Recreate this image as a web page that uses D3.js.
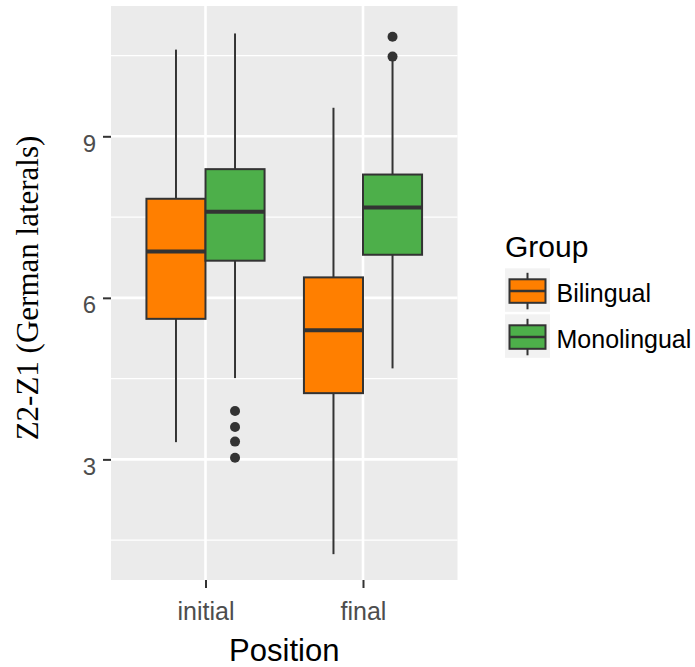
<!DOCTYPE html>
<html>
<head>
<meta charset="utf-8">
<script src="https://cdn.jsdelivr.net/npm/d3@7"></script>
<style>
  html, body { margin: 0; padding: 0; background: #ffffff; }
  svg { display: block; }
</style>
</head>
<body>
<svg id="chart" width="695" height="667"></svg>
<script>
// Box-plot summaries of Z2-Z1 for German laterals, by position and group
const positions = ["initial", "final"];
const groups = ["Bilingual", "Monolingual"];
const groupColors = ["#FF7F00", "#4DAF4A"];

// one entry per [position][group]
const whiskerLow  = [[3.32, 4.51], [1.24, 4.69]];
const q1          = [[5.61, 6.69], [4.23, 6.80]];
const medians     = [[6.86, 7.60], [5.40, 7.68]];
const q3          = [[7.84, 8.39], [6.38, 8.29]];
const whiskerHigh = [[10.61, 10.91], [9.53, 10.45]];
const outliers    = [[[], [3.90, 3.60, 3.33, 3.03]], [[], [10.48, 10.85]]];

const yTicks = [3, 6, 9];
const yMinor = [1.5, 4.5, 7.5, 10.5];
const yDomain = [0.76, 11.42];

const svg = d3.select("#chart");
const panel = { left: 111, right: 457.5, top: 6, bottom: 580 };

const x = d3.scalePoint().domain(positions).range([panel.left, panel.right]).padding(0.6);
const y = d3.scaleLinear().domain(yDomain).range([panel.bottom, panel.top]);
const dodge = d3.scaleBand().domain(groups).range([-0.375, 0.375]);
const step = x.step();
const boxW = dodge.bandwidth() * step;

// panel background and grid
svg.append("rect")
  .attr("x", panel.left).attr("y", panel.top)
  .attr("width", panel.right - panel.left).attr("height", panel.bottom - panel.top)
  .attr("fill", "#EBEBEB");

const grid = svg.append("g");
grid.selectAll("line.minor").data(yMinor).join("line")
  .attr("x1", panel.left).attr("x2", panel.right)
  .attr("y1", d => y(d)).attr("y2", d => y(d))
  .attr("stroke", "#ffffff").attr("stroke-width", 1.3);
grid.selectAll("line.majorY").data(yTicks).join("line")
  .attr("x1", panel.left).attr("x2", panel.right)
  .attr("y1", d => y(d)).attr("y2", d => y(d))
  .attr("stroke", "#ffffff").attr("stroke-width", 2.6);
grid.selectAll("line.majorX").data(positions).join("line")
  .attr("x1", d => x(d)).attr("x2", d => x(d))
  .attr("y1", panel.top).attr("y2", panel.bottom)
  .attr("stroke", "#ffffff").attr("stroke-width", 2.6);

// boxes
const records = [];
positions.forEach((p, i) => groups.forEach((g, j) => records.push({
  p, g, color: groupColors[j],
  lo: whiskerLow[i][j], q1: q1[i][j], med: medians[i][j], q3: q3[i][j], hi: whiskerHigh[i][j],
  out: outliers[i][j]
})));

const boxes = svg.append("g").selectAll("g").data(records).join("g")
  .attr("transform", d => `translate(${x(d.p) + (dodge(d.g) + dodge.bandwidth() / 2) * step},0)`);

boxes.append("line")
  .attr("x1", 0).attr("x2", 0).attr("y1", d => y(d.hi)).attr("y2", d => y(d.q3))
  .attr("stroke", "#333333").attr("stroke-width", 2);
boxes.append("line")
  .attr("x1", 0).attr("x2", 0).attr("y1", d => y(d.q1)).attr("y2", d => y(d.lo))
  .attr("stroke", "#333333").attr("stroke-width", 2);
boxes.append("rect")
  .attr("x", -boxW / 2).attr("width", boxW)
  .attr("y", d => y(d.q3)).attr("height", d => y(d.q1) - y(d.q3))
  .attr("fill", d => d.color).attr("stroke", "#333333").attr("stroke-width", 2);
boxes.append("line")
  .attr("x1", -boxW / 2).attr("x2", boxW / 2)
  .attr("y1", d => y(d.med)).attr("y2", d => y(d.med))
  .attr("stroke", "#333333").attr("stroke-width", 4);
boxes.selectAll("circle").data(d => d.out).join("circle")
  .attr("cx", 0).attr("cy", d => y(d)).attr("r", 5)
  .attr("fill", "#333333");

// axes
const sans = "'Liberation Sans', Arial, sans-serif";
const yAxis = svg.append("g")
  .attr("transform", `translate(${panel.left},0)`)
  .call(d3.axisLeft(y).tickValues(yTicks).tickSize(8).tickPadding(7).tickFormat(d3.format("d")));
yAxis.select(".domain").remove();
yAxis.selectAll(".tick line").attr("stroke", "#333333").attr("stroke-width", 2);
yAxis.selectAll(".tick text")
  .attr("fill", "#4D4D4D").attr("font-family", sans).attr("font-size", 24)
  .attr("dy", "0.62em");

const xAxis = svg.append("g")
  .attr("transform", `translate(0,${panel.bottom})`)
  .call(d3.axisBottom(x).tickSize(8).tickPadding(14));
xAxis.select(".domain").remove();
xAxis.selectAll(".tick line").attr("stroke", "#333333").attr("stroke-width", 2);
xAxis.selectAll(".tick text")
  .attr("fill", "#4D4D4D").attr("font-family", sans).attr("font-size", 25);

svg.append("text")
  .attr("x", (panel.left + panel.right) / 2).attr("y", 661)
  .attr("text-anchor", "middle")
  .attr("font-family", sans).attr("font-size", 31).attr("fill", "#000000")
  .text("Position");

svg.append("text")
  .attr("transform", "translate(38,288) rotate(-90)")
  .attr("text-anchor", "middle")
  .attr("font-family", "'Liberation Serif', 'Times New Roman', serif")
  .attr("font-size", 31).attr("fill", "#000000")
  .text("Z2-Z1 (German laterals)");

// legend
const legend = svg.append("g").attr("transform", "translate(505,0)");
legend.append("text")
  .attr("x", 0).attr("y", 257)
  .attr("font-family", sans).attr("font-size", 30).attr("fill", "#000000")
  .text("Group");

const keyH = 43.5, keyW = 45, keyTop = 268.3, keyGap = 2.5;
const keys = legend.selectAll("g.key").data(groups).join("g")
  .attr("class", "key")
  .attr("transform", (d, i) => `translate(0,${keyTop + i * (keyH + keyGap)})`);
keys.append("rect")
  .attr("width", keyW).attr("height", keyH).attr("fill", "#F2F2F2");
keys.append("line")
  .attr("x1", keyW / 2).attr("x2", keyW / 2).attr("y1", 4.5).attr("y2", keyH - 2.5)
  .attr("stroke", "#333333").attr("stroke-width", 2);
keys.append("rect")
  .attr("x", 4.5).attr("y", 11).attr("width", keyW - 9).attr("height", 23.5)
  .attr("fill", (d, i) => groupColors[i]).attr("stroke", "#333333").attr("stroke-width", 2);
keys.append("line")
  .attr("x1", 4.5).attr("x2", keyW - 4.5).attr("y1", 22.7).attr("y2", 22.7)
  .attr("stroke", "#333333").attr("stroke-width", 2.5);
keys.append("text")
  .attr("x", keyW + 6.5).attr("y", 33.5)
  .attr("font-family", sans).attr("font-size", 25).attr("fill", "#000000")
  .text(d => d);
</script>
</body>
</html>
